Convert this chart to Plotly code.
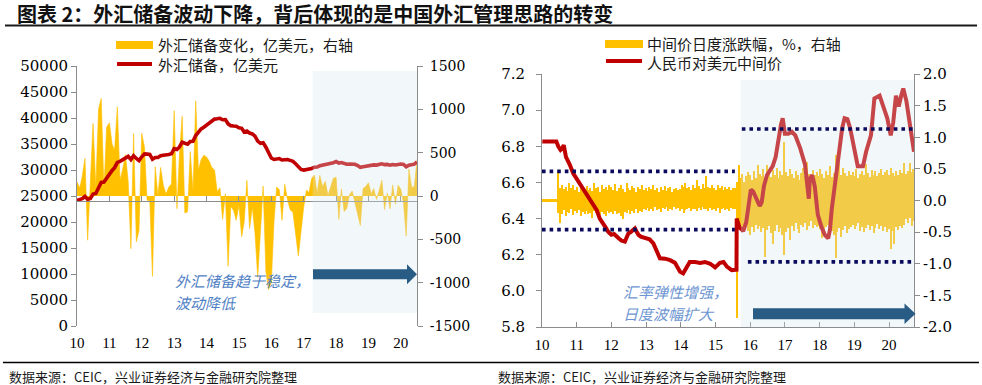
import plotly.graph_objects as go
import pandas as pd

W, H = 982, 385

# ---------------- data ----------------
# Left chart: China FX reserves (100m USD), monthly Jan-2010 .. Jul-2020
fx_months = pd.date_range("2010-01-01", periods=127, freq="MS")
fx_reserve = [
    24153, 24245, 24471, 24905, 24395, 24543, 25380, 25483, 26483, 27608, 27679, 28473,
    29317, 29914, 30447, 31475, 31660, 31975, 32453, 32625, 32017, 32738, 32209, 31811,
    32536, 33097, 33050, 32989, 32061, 32400, 32400, 32730, 32851, 32874, 32977, 33116,
    34100, 33954, 34426, 35345, 35148, 34967, 35478, 35530, 36627, 37366, 37895, 38213,
    38666, 39137, 39481, 39788, 39838, 39932, 39662, 39688, 38877, 38529, 38473, 38430,
    38134, 38015, 37300, 37481, 37111, 36939, 36513, 35574, 35141, 35255, 34383, 33304,
    32309, 32023, 32126, 32197, 31917, 32052, 32011, 31852, 31664, 31206, 30516, 30105,
    29982, 30051, 30091, 30295, 30536, 30568, 30807, 30915, 31085, 31092, 31193, 31399,
    31615, 31345, 31428, 31249, 31106, 31121, 31179, 31097, 30870, 30531, 30617, 30727,
    30879, 30902, 30988, 30947, 31010, 31192, 31037, 31072, 30924, 31052, 30956, 31079,
    31155, 31067, 30606, 30915, 31017, 31123, 31544,
]
fx_change = [
    161, 92, 226, 434, -510, 148, 837, 103, 1000, 1125, 71, 794,
    844, 597, 533, 1028, 185, 315, 478, 172, -608, 721, -529, -398,
    725, 561, -47, -61, -928, 339, 0, 330, 121, 23, 103, 139,
    984, -146, 472, 919, -197, -181, 511, 52, 1097, 300, 420, 470,
    450, 400, 330, 300, 50, 94, -270, 26, -811, -120, -165, -280,
    -110, -470, -300, 180, -375, -130, -430, -940, -433, 114, -872, -1079,
    -995, -286, 103, 71, -280, 135, -41, -159, -188, -458, -691, -411,
    -123, 69, 40, 204, 241, 32, 239, 108, 170, 7, 101, 206,
    216, -270, 83, -179, -143, 15, 58, -82, -227, -339, 86, 110,
    152, 23, 86, -41, 63, 182, -155, 35, -148, 128, -96, 123,
    76, -88, -461, 309, 102, 106, 421,
]

# Right chart: USD/CNY central parity
cny_dates = [
    "2010-01-04", "2010-06-01", "2010-06-21", "2010-07-15", "2010-08-05", "2010-08-18",
    "2010-09-10", "2010-10-01", "2010-10-22", "2010-11-25", "2011-01-01", "2011-01-26",
    "2011-02-21", "2011-03-20", "2011-04-15", "2011-05-12", "2011-06-06", "2011-07-01",
    "2011-07-31", "2011-09-01", "2011-10-08", "2011-11-03", "2011-11-28", "2012-01-01",
    "2012-01-30", "2012-02-24", "2012-03-20", "2012-04-19", "2012-05-22", "2012-06-13",
    "2012-06-28", "2012-07-23", "2012-08-18", "2012-09-05", "2012-09-20", "2012-10-12",
    "2012-11-06", "2012-12-20", "2013-02-06", "2013-03-18", "2013-04-20", "2013-05-26",
    "2013-07-20", "2013-09-10", "2013-10-31", "2013-12-24", "2014-01-26", "2014-03-04",
    "2014-04-05", "2014-05-30", "2014-07-24", "2014-09-13", "2014-11-06", "2014-12-28",
    "2015-02-17", "2015-03-26", "2015-05-01", "2015-06-21", "2015-07-31", "2015-08-10",
    "2015-08-12", "2015-08-25", "2015-09-12", "2015-10-05", "2015-10-20", "2015-11-20",
    "2015-12-20", "2016-01-08", "2016-02-01", "2016-03-01", "2016-04-10", "2016-05-01",
    "2016-05-25", "2016-06-25", "2016-07-25", "2016-08-25", "2016-09-25", "2016-10-20",
    "2016-11-20", "2016-12-08", "2016-12-31", "2017-02-06", "2017-03-14", "2017-04-20",
    "2017-06-10", "2017-07-31", "2017-08-22", "2017-09-09", "2017-09-20", "2017-10-15",
    "2017-11-10", "2017-12-13", "2018-01-23", "2018-02-24", "2018-04-01", "2018-04-20",
    "2018-05-08", "2018-06-13", "2018-07-09", "2018-08-04", "2018-08-26", "2018-09-20",
    "2018-10-20", "2018-11-18", "2019-01-01", "2019-02-06", "2019-04-02", "2019-05-05",
    "2019-06-25", "2019-07-31", "2019-09-24", "2019-10-28", "2019-12-14", "2020-01-19",
    "2020-02-14", "2020-03-14", "2020-04-12", "2020-05-08", "2020-05-30", "2020-07-02",
    "2020-08-08", "2020-09-20",
]
cny_fix = [
    6.827, 6.827, 6.80, 6.78, 6.79, 6.807,
    6.742, 6.72, 6.696, 6.65, 6.62, 6.60,
    6.576, 6.55, 6.53, 6.505, 6.49, 6.47,
    6.447, 6.40, 6.374, 6.35, 6.327, 6.31,
    6.315, 6.30, 6.29, 6.277, 6.272, 6.30,
    6.318, 6.325, 6.337, 6.345, 6.33, 6.31,
    6.30, 6.295, 6.285, 6.263, 6.226, 6.18,
    6.178, 6.17, 6.155, 6.106, 6.097, 6.134,
    6.16, 6.16, 6.155, 6.16, 6.15, 6.13,
    6.155, 6.16, 6.134, 6.115, 6.115, 6.117,
    6.40, 6.38, 6.35, 6.34, 6.33, 6.38,
    6.50, 6.56, 6.55, 6.51, 6.47, 6.49,
    6.58, 6.64, 6.67, 6.69, 6.74, 6.83,
    6.92, 6.955, 6.87, 6.87, 6.88, 6.86,
    6.79, 6.70, 6.585, 6.51, 6.62, 6.64,
    6.58, 6.42, 6.35, 6.31, 6.29, 6.34,
    6.45, 6.60, 6.72, 6.825, 6.90, 6.955,
    6.95, 6.90, 6.77, 6.69, 6.69, 6.77,
    6.86, 7.065, 7.08, 7.03, 6.955, 6.86,
    6.93, 7.08, 7.02, 7.08, 7.12, 7.05,
    6.92, 6.77,
]

# Daily change of central parity (%), summarised per 20-day window: highest and lowest day
chg_start = "2010-01-01"
chg_window_days = 20
chg_hi = [
    0.015, 0.015, 0.015, 0.015, 0.015, 0.015, 0.015, 0.015,
    0.45, 0.20, 0.25, 0.18, 0.22, 0.15, 0.27, 0.19, 0.24, 0.16,
    0.21, 0.14, 0.26, 0.18, 0.12, 0.23, 0.17, 0.20, 0.15, 0.28, 0.19, 0.22, 0.13, 0.25, 0.18, 0.21, 0.16, 0.24,
    0.22, 0.17, 0.26, 0.15, 0.20, 0.24, 0.18, 0.13, 0.27, 0.19, 0.16, 0.23, 0.20, 0.14, 0.21, 0.18, 0.25, 0.17,
    0.19, 0.15, 0.22, 0.18, 0.24, 0.16, 0.20, 0.13, 0.21, 0.17, 0.23, 0.15, 0.19, 0.22, 0.14, 0.18, 0.20, 0.16,
    0.18, 0.24, 0.21, 0.28, 0.19, 0.22, 0.17, 0.25, 0.20, 0.33, 0.23, 0.18, 0.26, 0.20, 0.38, 0.22, 0.19, 0.24,
    0.20, 0.17, 0.25, 0.19, 0.23, 0.16, 0.21, 0.18, 0.22, 0.17, 0.20, 0.19,
    0.30,
    0.56, 0.35, 0.42, 0.30, 0.38, 0.45,
    0.40, 0.33, 0.47, 0.36, 0.56, 0.42, 0.38, 0.50, 0.35, 0.56, 0.44, 0.37, 0.48, 0.40, 0.52, 0.36, 0.46, 0.41,
    0.93, 0.45, 0.38, 0.50, 0.42, 0.35, 0.47, 0.40, 0.33, 0.44, 0.52, 0.38, 0.61, 0.42, 0.36, 0.48, 0.40, 0.45,
    0.38, 0.50, 0.42, 0.35, 0.46, 0.40, 0.55, 0.37, 0.44, 0.72, 0.48, 0.60, 0.40, 0.52, 0.43, 0.38, 0.47, 0.41,
    0.45, 0.38, 0.50, 0.36, 0.42, 0.47, 0.40, 0.58, 0.44, 0.37, 0.49, 0.41, 0.46, 0.38, 0.43, 0.50, 0.40, 0.45,
    0.48, 0.40, 0.52, 0.43, 0.38, 0.46, 0.41, 0.49, 0.44, 0.59, 0.42, 0.47, 0.60, 0.45, 0.50,
]
chg_lo = [
    -0.015, -0.015, -0.015, -0.015, -0.015, -0.015, -0.015, -0.015,
    -0.20, -0.36, -0.22, -0.15, -0.25, -0.18, -0.20, -0.14, -0.23, -0.17,
    -0.19, -0.15, -0.24, -0.18, -0.21, -0.16, -0.22, -0.19, -0.27, -0.17, -0.20, -0.15, -0.23, -0.18, -0.21, -0.25, -0.17, -0.20,
    -0.18, -0.22, -0.16, -0.21, -0.19, -0.24, -0.30, -0.18, -0.20, -0.15, -0.22, -0.17, -0.19, -0.14, -0.20, -0.16, -0.18, -0.13,
    -0.15, -0.12, -0.17, -0.14, -0.16, -0.11, -0.15, -0.13, -0.18, -0.12, -0.14, -0.10, -0.16, -0.13, -0.15, -0.11, -0.14, -0.12,
    -0.16, -0.13, -0.19, -0.15, -0.14, -0.12, -0.17, -0.14, -0.13, -0.16, -0.12, -0.15, -0.11, -0.14, -0.13, -0.16, -0.12, -0.15,
    -0.13, -0.17, -0.12, -0.19, -0.14, -0.12, -0.15, -0.13, -0.16, -0.12, -0.14, -0.13,
    -1.86,
    -0.45, -0.38, -0.50, -0.42, -0.35, -0.48,
    -0.55, -0.42, -0.50, -0.38, -0.45, -0.40, -0.50, -0.44, -0.89, -0.47, -0.40, -0.52, -0.68, -0.48, -0.39, -0.50, -0.43, -0.55,
    -0.86, -0.50, -0.44, -0.62, -0.40, -0.48, -0.36, -0.45, -0.52, -0.38, -0.42, -0.35, -0.47, -0.40, -0.33, -0.44, -0.38, -0.42,
    -0.40, -0.45, -0.60, -0.50, -0.42, -0.38, -0.45, -0.48, -0.55, -0.91, -0.50, -0.44, -0.58, -0.47, -0.40, -0.52, -0.45, -0.42,
    -0.38, -0.45, -0.40, -0.35, -0.48, -0.42, -0.50, -0.44, -0.38, -0.46, -0.40, -0.52, -0.43, -0.37, -0.45, -0.40, -0.48, -0.42,
    -0.50, -0.45, -0.76, -0.48, -0.68, -0.42, -0.47, -0.40, -0.44, -0.38, -0.30, -0.35, -0.28, -0.40, -0.33,
]

# Policy band markers on the right chart (% daily change)
band_pre_upper, band_pre_lower = 0.46, -0.46
band_post_upper, band_post_lower = 1.13, -0.97

year_ticks = ["2010-01-01", "2011-01-01", "2012-01-01", "2013-01-01", "2014-01-01", "2015-01-01",
              "2016-01-01", "2017-01-01", "2018-01-01", "2019-01-01", "2020-01-01"]
year_labels = ["10", "11", "12", "13", "14", "15", "16", "17", "18", "19", "20"]

res_ticks = [0, 5000, 10000, 15000, 20000, 25000, 30000, 35000, 40000, 45000, 50000]
res_labels = ["0", "5000", "10000", "15000", "20000", "25000", "30000", "35000", "40000", "45000", "50000"]
chgfx_ticks = [-1500, -1000, -500, 0, 500, 1000, 1500]
chgfx_labels = ["-1500", "-1000", "-500", "0", "500", "1000", "1500"]
cny_ticks = [5.8, 6.0, 6.2, 6.4, 6.6, 6.8, 7.0, 7.2]
cny_labels = ["5.8", "6.0", "6.2", "6.4", "6.6", "6.8", "7.0", "7.2"]
pct_ticks = [-2.0, -1.5, -1.0, -0.5, 0.0, 0.5, 1.0, 1.5, 2.0]
pct_labels = ["-2.0", "-1.5", "-1.0", "-0.5", "0.0", "0.5", "1.0", "1.5", "2.0"]

# ---------------- styling ----------------
YEL = "#FFC000"
RED = "#C00000"
NAVY = "#0B0B5E"
ARROW = "#285C84"
AXC = "#8C8C8C"
CJK = "Noto Sans CJK SC"
NUM = "DejaVu Serif"
NUMX = "Liberation Serif"


def px(x):
    return x / W


def py(y):
    return 1 - y / H


chg_x = pd.date_range(chg_start, periods=len(chg_hi), freq=f"{chg_window_days}D") + pd.Timedelta(days=chg_window_days / 2)
bar_w = chg_window_days * 86400000 * 0.6

fig = go.Figure()

# left chart
fig.add_trace(go.Scatter(x=fx_months, y=fx_change, mode="lines", fill="tozeroy",
                         fillcolor=YEL, line=dict(color=YEL, width=0.6),
                         xaxis="x", yaxis="y", hoverinfo="skip"))
fig.add_trace(go.Scatter(x=fx_months, y=fx_reserve, mode="lines",
                         line=dict(color=RED, width=3.6),
                         xaxis="x", yaxis="y2", hoverinfo="skip"))
fig.add_trace(go.Scatter(x=[], y=[], xaxis="x3", yaxis="y"))

# right chart
fig.add_trace(go.Bar(x=chg_x, y=chg_hi, width=bar_w, marker=dict(color=YEL, line=dict(width=0)),
                     xaxis="x2", yaxis="y3", hoverinfo="skip"))
fig.add_trace(go.Bar(x=chg_x, y=chg_lo, width=bar_w, marker=dict(color=YEL, line=dict(width=0)),
                     xaxis="x2", yaxis="y3", hoverinfo="skip"))
fig.add_trace(go.Scatter(x=cny_dates, y=cny_fix, mode="lines",
                         line=dict(color=RED, width=4),
                         xaxis="x2", yaxis="y4", hoverinfo="skip"))

yax_common = dict(showgrid=False, zeroline=False, showline=True, linecolor=AXC, linewidth=1,
                  ticks="outside", ticklen=5, tickcolor=AXC, tickmode="array", automargin=False)

fig.update_layout(
    template="none",
    width=W, height=H, margin=dict(l=0, r=0, t=0, b=0, pad=0), autosize=False,
    paper_bgcolor="white", plot_bgcolor="rgba(0,0,0,0)",
    showlegend=False, barmode="overlay", bargap=0,
    xaxis=dict(domain=[px(77), px(417)], type="date", range=[fx_months[0], fx_months[-1]],
               tickmode="array", tickvals=year_ticks, ticktext=year_labels, automargin=False,
               showline=False, ticks="", showgrid=False, zeroline=False, anchor="y",
               tickfont=dict(family=NUMX, size=15, color="black"), ticklabelstandoff=6),
    xaxis3=dict(overlaying="x", type="date", range=[fx_months[0], fx_months[-1]],
                tickmode="array", tickvals=year_ticks, showticklabels=False, automargin=False,
                showline=True, linecolor=AXC, linewidth=1, ticks="inside", ticklen=5,
                tickcolor=AXC, showgrid=False, zeroline=False, anchor="free", position=py(201)),
    yaxis=dict(domain=[py(326), py(66)], range=[-1500, 1500], side="right", anchor="x",
               tickvals=chgfx_ticks, ticktext=chgfx_labels, ticklabelstandoff=4,
               tickfont=dict(family=NUM, size=14, color="black"), **yax_common),
    yaxis2=dict(overlaying="y", range=[0, 50000], side="left", anchor="x",
                tickvals=res_ticks, ticktext=res_labels,
                tickfont=dict(family=NUM, size=15, color="black"), **yax_common),
    xaxis2=dict(domain=[px(542), px(914)], type="date", range=["2010-01-01", "2020-09-20"],
                tickmode="array", tickvals=year_ticks, ticktext=year_labels, automargin=False,
                showline=True, linecolor=AXC, linewidth=1, ticks="inside", ticklen=5,
                tickcolor=AXC, showgrid=False, zeroline=False, anchor="y3",
                tickfont=dict(family=NUMX, size=15, color="black"), ticklabelstandoff=4),
    yaxis3=dict(domain=[py(327), py(74)], range=[-2, 2], side="right", anchor="x2",
                tickvals=pct_ticks, ticktext=pct_labels,
                tickfont=dict(family=NUM, size=15, color="black"), **yax_common),
    yaxis4=dict(overlaying="y3", range=[5.8, 7.2], side="left", anchor="x2",
                tickvals=cny_ticks, ticktext=cny_labels, ticklabelstandoff=8,
                tickfont=dict(family=NUM, size=15, color="black"), **yax_common),
)

shapes = []
# shaded "new regime" regions (semi-transparent overlay)
SHADE = "rgba(212,228,238,0.30)"
shapes.append(dict(type="rect", xref="x", yref="paper", x0="2017-04-12", x1=fx_months[-1],
                   y0=py(313), y1=py(71), fillcolor=SHADE, line=dict(width=0), layer="above"))
shapes.append(dict(type="rect", xref="x2", yref="paper", x0="2015-09-24", x1="2020-09-20",
                   y0=py(327), y1=py(80), fillcolor=SHADE, line=dict(width=0), layer="above"))

# dotted band markers
DOT = dict(color=NAVY, width=3.6, dash="3.6px,4px")
shapes.append(dict(type="line", xref="x2", yref="y3", x0="2010-01-01", x1="2015-07-24",
                   y0=band_pre_upper, y1=band_pre_upper, line=DOT, layer="above"))
shapes.append(dict(type="line", xref="x2", yref="y3", x0="2010-01-01", x1="2015-07-24",
                   y0=band_pre_lower, y1=band_pre_lower, line=DOT, layer="above"))
shapes.append(dict(type="line", xref="x2", yref="y3", x0="2015-10-05", x1="2020-09-12",
                   y0=band_post_upper, y1=band_post_upper, line=DOT, layer="above"))
shapes.append(dict(type="line", xref="x2", yref="y3", x0="2015-12-08", x1="2020-09-05",
                   y0=band_post_lower, y1=band_post_lower, line=DOT, layer="above"))


def arrow_path(x0, x1, yc, body_half, head_half, head_len):
    pts = [(x0, yc - body_half), (x1 - head_len, yc - body_half), (x1 - head_len, yc - head_half),
           (x1, yc), (x1 - head_len, yc + head_half), (x1 - head_len, yc + body_half), (x0, yc + body_half)]
    return "M " + " L ".join(f"{px(a):.5f},{py(b):.5f}" for a, b in pts) + " Z"


shapes.append(dict(type="path", xref="paper", yref="paper",
                   path=arrow_path(313, 417, 274.3, 5, 10, 10),
                   fillcolor=ARROW, line=dict(width=0), layer="above"))
shapes.append(dict(type="path", xref="paper", yref="paper",
                   path=arrow_path(753, 915.5, 313.8, 5.5, 10.3, 11),
                   fillcolor=ARROW, line=dict(width=0), layer="above"))

# title & footer rules
shapes.append(dict(type="line", xref="paper", yref="paper", x0=px(5), x1=px(977), y0=py(25.5), y1=py(25.5),
                   line=dict(color="#1A1A1A", width=2), layer="above"))
shapes.append(dict(type="line", xref="paper", yref="paper", x0=px(3), x1=px(979), y0=py(362.5), y1=py(362.5),
                   line=dict(color="#000000", width=1.3), layer="above"))

# legends
shapes.append(dict(type="rect", xref="paper", yref="paper", x0=px(116), x1=px(153), y0=py(49), y1=py(41),
                   fillcolor=YEL, line=dict(width=0)))
shapes.append(dict(type="line", xref="paper", yref="paper", x0=px(117), x1=px(152), y0=py(64), y1=py(64),
                   line=dict(color=RED, width=4)))
shapes.append(dict(type="rect", xref="paper", yref="paper", x0=px(605), x1=px(643), y0=py(48), y1=py(40),
                   fillcolor=YEL, line=dict(width=0)))
shapes.append(dict(type="line", xref="paper", yref="paper", x0=px(606), x1=px(642), y0=py(61), y1=py(61),
                   line=dict(color=RED, width=4)))

fig.update_layout(shapes=shapes)

anns = []


def text(x, y, s, size, color="#1A1A1A", family=CJK, xanchor="left"):
    anns.append(dict(x=px(x), y=py(y), xref="paper", yref="paper", text=s, showarrow=False,
                     xanchor=xanchor, yanchor="middle", borderpad=0,
                     font=dict(family=family, size=size, color=color)))


text(16, 13.5, "<b>图表 2：外汇储备波动下降，背后体现的是中国外汇管理思路的转变</b>", 20, "#111111")
text(157, 44.5, "外汇储备变化，亿美元，右轴", 15)
text(157, 64.5, "外汇储备，亿美元", 15)
text(646, 43.5, "中间价日度涨跌幅，%，右轴", 15)
text(646, 63, "人民币对美元中间价", 15)
text(174, 280, "<i>外汇储备趋于稳定，</i>", 15, "#4F7FC4")
text(174, 302, "<i>波动降低</i>", 15, "#4F7FC4")
text(622, 291, "<i>汇率弹性增强，</i>", 15, "#6E96D2")
text(622, 313, "<i>日度波幅扩大</i>", 15, "#6E96D2")
text(8, 376, "数据来源：CEIC，兴业证券经济与金融研究院整理", 13)
text(497, 376, "数据来源：CEIC，兴业证券经济与金融研究院整理", 13)

fig.update_layout(annotations=anns)

fig.write_html("out.html", config={"displayModeBar": False},
               post_script="document.body.style.margin='0';document.body.style.padding='0';")
